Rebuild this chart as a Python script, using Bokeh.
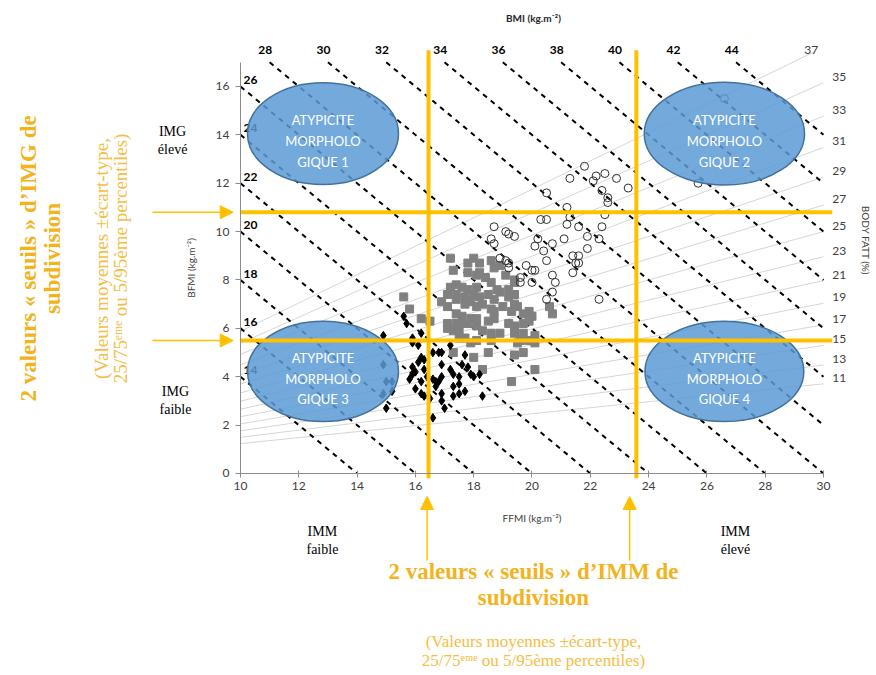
from math import pi
from bokeh.plotting import figure
from bokeh.models import Range1d, Arrow, NormalHead, FixedTicker
from bokeh.embed import file_html
from bokeh.resources import INLINE
from bokeh.core.properties import value

# ---------------- data ----------------
ffmi_ticks = [10, 12, 14, 16, 18, 20, 22, 24, 26, 28, 30]
bfmi_ticks = [0, 2, 4, 6, 8, 10, 12, 14, 16]

bmi_iso = [14, 16, 18, 20, 22, 24, 26, 28, 30, 32, 34, 36, 38, 40, 42, 44]
body_fat_iso = [11, 13, 15, 17, 19, 21, 23, 25, 27, 29, 31, 33, 35, 37]

imm_thresholds = [16.45, 23.58]   # FFMI cut-offs (vertical)
img_thresholds = [5.5, 10.8]      # BFMI cut-offs (horizontal)

# group 1 : black filled diamonds
black_ffmi = [14.9, 15.7, 15.6, 15.9, 15.9, 16.2, 17.2, 16.6, 16.8, 16.9,
              16.2, 16.1, 16.3, 16.9, 17.7, 17.6, 17.8, 17.2, 17.3, 16.0,
              15.9, 16.3, 16.4, 16.6, 16.7, 16.8, 16.9, 16.2, 17.9, 18.0,
              18.2, 17.5, 17.5, 17.3, 16.7, 16.9, 16.2, 16.3, 17.7, 17.5,
              17.3, 16.5, 16.9, 18.3, 17.0, 16.6, 16.0, 15.9, 16.1, 15.8,
              14.9, 15.0, 15.2, 15.2, 14.9, 15.0]
black_bfmi = [5.7, 6.2, 6.5, 5.6, 5.4, 5.8, 5.3, 5.0, 5.0, 5.0,
              4.8, 4.6, 4.7, 4.5, 4.9, 4.5, 4.4, 4.3, 4.1, 4.2,
              4.1, 4.3, 4.0, 3.9, 3.8, 3.8, 4.0, 3.8, 4.1, 4.0,
              4.1, 4.0, 3.7, 3.6, 3.6, 3.3, 3.3, 3.2, 3.4, 3.3,
              3.2, 3.1, 3.0, 3.2, 2.7, 2.3, 3.5, 4.4, 5.3, 3.9,
              4.5, 3.8, 3.8, 3.4, 3.3, 2.7]

# group 2 : grey squares
grey_ffmi = [17.2, 17.3, 17.8, 18.0, 18.2, 18.6, 17.8, 18.1, 18.2, 18.4,
             18.7, 18.9, 19.1, 19.4, 18.6, 18.8, 17.2, 17.4, 17.6, 17.8,
             18.1, 17.1, 17.4, 17.7, 18.0, 18.2, 18.5, 18.9, 19.2, 19.4,
             18.7, 15.6, 16.9, 17.1, 17.4, 17.7, 17.9, 18.1, 18.3, 18.6,
             18.7, 19.0, 19.3, 19.5, 19.9, 20.0, 15.8, 16.2, 16.5, 17.4,
             17.6, 17.9, 18.1, 18.5, 18.7, 17.1, 17.4, 17.6, 17.8, 18.1,
             19.2, 19.4, 19.7, 19.9, 17.1, 17.3, 17.5, 18.3, 18.6, 18.9,
             19.4, 19.7, 20.1, 17.5, 17.7, 18.1, 18.6, 19.6, 19.9, 17.9,
             18.5, 17.3, 18.0, 19.5, 19.7, 19.4, 20.1, 18.3, 20.1, 19.3,
             19.4, 19.2, 19.4, 19.7, 20.7, 20.6]
grey_bfmi = [8.9, 8.4, 8.7, 8.9, 8.7, 8.8, 8.3, 8.2, 8.3, 8.1,
             8.5, 8.6, 8.2, 7.9, 7.9, 7.6, 7.7, 7.8, 7.7, 7.6,
             7.7, 7.4, 7.4, 7.3, 7.4, 7.3, 7.4, 7.5, 7.3, 7.4,
             7.2, 7.3, 7.1, 6.9, 7.2, 7.0, 7.1, 6.9, 7.0, 6.8,
             6.7, 6.9, 6.7, 6.9, 6.7, 6.5, 6.8, 6.4, 6.3, 6.6,
             6.5, 6.4, 6.4, 6.3, 6.4, 6.2, 6.2, 6.2, 6.2, 6.1,
             6.2, 6.1, 6.2, 6.3, 6.0, 5.9, 5.9, 5.9, 5.8, 5.8,
             5.8, 5.8, 5.7, 5.6, 5.6, 5.5, 5.5, 5.5, 5.5, 5.4,
             5.0, 5.0, 4.8, 5.4, 5.0, 4.9, 5.4, 4.3, 4.3, 3.8,
             8.0, 7.6, 7.0, 6.6, 6.6, 6.9]

# group 3 : open circles
open_ffmi = [21.8, 21.3, 22.2, 22.1, 22.5, 22.9, 23.3, 20.5, 22.4, 22.6,
             22.6, 21.2, 22.5, 20.3, 20.5, 21.3, 21.2, 21.6, 22.4, 18.7,
             19.1, 19.2, 19.4, 18.6, 18.7, 20.2, 20.7, 21.1, 21.9, 22.3,
             20.1, 20.4, 21.9, 18.9, 19.1, 19.2, 20.5, 21.4, 21.6, 21.5,
             21.6, 19.8, 20.0, 20.1, 19.2, 19.6, 19.6, 20.0, 20.7, 20.8,
             21.4, 20.7, 20.5, 22.3, 26.6, 25.7]
open_bfmi = [12.7, 12.2, 12.3, 12.1, 12.4, 12.2, 11.8, 11.6, 11.7, 11.4,
             11.2, 11.0, 10.7, 10.5, 10.5, 10.6, 10.3, 10.2, 10.2, 10.2,
             10.0, 9.9, 9.8, 9.7, 9.5, 9.7, 9.5, 9.7, 9.8, 9.7,
             9.4, 9.2, 9.3, 8.9, 8.8, 8.7, 8.8, 9.0, 9.0, 8.7,
             8.7, 8.6, 8.4, 8.4, 8.5, 8.1, 7.9, 7.9, 8.2, 7.9,
             8.3, 7.5, 7.2, 7.2, 15.5, 12.0]

# atypical morphology zones
zone_x = [12.83, 26.6, 12.83, 26.6]
zone_y = [14.05, 14.05, 4.22, 4.22]
zone_w = [5.18, 5.5, 5.18, 5.45]
zone_h = [4.2, 4.25, 4.15, 4.15]
zone_labels = ["ATYPICITE\nMORPHOLO\nGIQUE 1", "ATYPICITE\nMORPHOLO\nGIQUE 2",
               "ATYPICITE\nMORPHOLO\nGIQUE 3", "ATYPICITE\nMORPHOLO\nGIQUE 4"]

# ---------------- styling constants ----------------
YELLOW = "#FFC000"
ORANGE_BOLD = "#F3B31C"
ORANGE_LIGHT = "#F4BE42"
SERIF = value("Liberation Serif")
SANS = value("Lato")
BF_TOP = 17.4
TOP = 17.0

p = figure(width=876, height=675,
           x_range=Range1d(1.7667, 31.8182), y_range=Range1d(-8.3506, 19.5535),
           output_backend="svg", toolbar_location=None,
           min_border_left=0, min_border_right=0, min_border_top=0, min_border_bottom=0)
p.outline_line_color = None
p.xgrid.visible = False
p.ygrid.visible = False

# axes
for ax in (p.xaxis, p.yaxis):
    ax.minor_tick_line_color = None
    ax.axis_line_color = "#8C8C8C"
    ax.major_tick_line_color = "#8C8C8C"
    ax.major_label_text_font = "Lato"
    ax.major_label_text_font_size = "12px"
    ax.major_label_text_color = "#404040"
    ax.axis_label_text_font = "Lato"
    ax.axis_label_text_font_size = "10px"
    ax.axis_label_text_font_style = "normal"
    ax.axis_label_text_color = "#404040"
p.xaxis.fixed_location = 0
p.yaxis.fixed_location = 10
p.xaxis.bounds = (10, 30)
p.yaxis.bounds = (0, 17)
p.xaxis.ticker = FixedTicker(ticks=ffmi_ticks)
p.yaxis.ticker = FixedTicker(ticks=bfmi_ticks)
p.xaxis.major_tick_in = 3
p.xaxis.major_tick_out = 4
p.yaxis.major_tick_in = 0
p.yaxis.major_tick_out = 5
p.xaxis.major_label_standoff = 5
p.yaxis.major_label_standoff = 6
p.xaxis.axis_label = "FFMI (kg.m\u207b\u00b2)"
p.yaxis.axis_label = "BFMI (kg.m\u207b\u00b2)"
p.xaxis.axis_label_standoff = 18
p.yaxis.axis_label_standoff = 16

# body-fat iso lines (through origin)
bf_slope = [f / (100 - f) for f in body_fat_iso]
bf_x1 = [min(30, BF_TOP / s) for s in bf_slope]
bf_y1 = [s * x for s, x in zip(bf_slope, bf_x1)]
p.segment(x0=[10] * len(bf_slope), y0=[10 * s for s in bf_slope], x1=bf_x1, y1=bf_y1,
          line_color="#D6D6D6", line_width=1)
side_i = [i for i, x in enumerate(bf_x1) if x >= 30]
top_i = [i for i, x in enumerate(bf_x1) if x < 30]
p.text(x=[30.3] * len(side_i), y=[bf_y1[i] + 0.25 for i in side_i],
       text=[str(body_fat_iso[i]) for i in side_i],
       text_font=SANS, text_font_size="12px", text_color="#404040",
       text_align="left", text_baseline="middle")
p.text(x=[bf_x1[i] - 0.05 for i in top_i], y=[bf_y1[i] + 0.1 for i in top_i],
       text=[str(body_fat_iso[i]) for i in top_i],
       text_font=SANS, text_font_size="12px", text_color="#404040",
       text_align="center", text_baseline="middle")

# BMI iso lines: FFMI + BFMI = BMI
bx0 = [max(10, b - TOP) for b in bmi_iso]
by0 = [b - x for b, x in zip(bmi_iso, bx0)]
bx1 = [min(30, b) for b in bmi_iso]
by1 = [b - x for b, x in zip(bmi_iso, bx1)]
p.segment(x0=bx0, y0=by0, x1=bx1, y1=by1, line_color="black", line_width=2,
          line_dash="5 5")
left_i = [i for i, b in enumerate(bmi_iso) if b - TOP < 10]
upper_i = [i for i, b in enumerate(bmi_iso) if b - TOP >= 10]
p.text(x=[10.1] * len(left_i), y=[by0[i] + 0.1 for i in left_i],
       text=[str(bmi_iso[i]) for i in left_i], text_font=SANS, text_font_size="12px",
       text_font_style="bold", text_color="black", text_align="left",
       text_baseline="bottom")
p.text(x=[bx0[i] - 0.15 for i in upper_i], y=[TOP + 0.35] * len(upper_i),
       text=[str(bmi_iso[i]) for i in upper_i], text_font=SANS, text_font_size="12px",
       text_font_style="bold", text_color="black", text_align="center",
       text_baseline="bottom")

# points
p.scatter(x=grey_ffmi, y=grey_bfmi, marker="square", size=8, fill_color="#808080",
          line_color="#808080")
p.scatter(x=black_ffmi, y=black_bfmi, marker="diamond", size=8.5, fill_color="black",
          line_color="black")
p.scatter(x=open_ffmi, y=open_bfmi, marker="circle", size=8, fill_color=None,
          line_color="#303030", line_width=1)

# atypical zones
p.ellipse(x=zone_x, y=zone_y, width=zone_w, height=zone_h, fill_color="#5B9BD5",
          fill_alpha=0.85, line_color="#41719C", line_width=1.5)
p.text(x=zone_x, y=[y - 0.3 for y in zone_y], text=zone_labels, text_color="white",
       text_font=SANS, text_font_size="13px", text_align="center",
       text_baseline="middle", text_line_height=1.3)

# threshold lines
p.segment(x0=imm_thresholds, y0=[-0.2] * 2, x1=imm_thresholds, y1=[17.5] * 2,
          line_color=YELLOW, line_width=4)
p.segment(x0=[10] * 2, y0=img_thresholds, x1=[30.3] * 2, y1=img_thresholds,
          line_color=YELLOW, line_width=4)

# arrows pointing at the thresholds
for t in img_thresholds:
    p.add_layout(Arrow(end=NormalHead(size=13, fill_color=YELLOW, line_color=YELLOW),
                       x_start=6.98, y_start=t, x_end=9.75, y_end=t,
                       line_color=YELLOW, line_width=1.5))
for xa in [16.4, 23.35]:
    p.add_layout(Arrow(end=NormalHead(size=13, fill_color=YELLOW, line_color=YELLOW),
                       x_start=xa, y_start=-3.6, x_end=xa, y_end=-0.95,
                       line_color=YELLOW, line_width=1.5))

# titles / side captions
p.text(x=[20.05], y=[18.81], text=["BMI (kg.m\u207b\u00b2)"], text_font=SANS,
       text_font_size="10px", text_font_style="bold", text_color="#262626",
       text_align="center", text_baseline="middle")
p.text(x=[31.45], y=[9.63], text=["BODY FATT (%)"], text_font=SANS, text_font_size="10px",
       text_color="#404040", text_align="center", text_baseline="middle", angle=-pi / 2)

p.text(x=[7.67, 7.77], y=[13.77, 3.02], text=["IMG\n\u00e9lev\u00e9", "IMG\nfaible"],
       text_font=SERIF, text_font_size="14px", text_color="black",
       text_align="center", text_baseline="middle", text_line_height=1.2)
p.text(x=[12.81, 26.98], y=[-2.77, -2.77], text=["IMM\nfaible", "IMM\n\u00e9lev\u00e9"],
       text_font=SERIF, text_font_size="14px", text_color="black",
       text_align="center", text_baseline="middle", text_line_height=1.2)

p.text(x=[20.05], y=[-4.59],
       text=["2 valeurs \u00ab seuils \u00bb d\u2019IMM de\nsubdivision"],
       text_font=SERIF, text_font_size="23px", text_font_style="bold",
       text_color=ORANGE_BOLD, text_align="center", text_baseline="middle",
       text_line_height=1.06)
p.text(x=[20.05], y=[-7.32],
       text=["(Valeurs moyennes \u00b1\u00e9cart-type,\n25/75\u1d49\u1d50\u1d49 ou 5/95\u00e8me percentiles)"],
       text_font=SERIF, text_font_size="17px", text_color=ORANGE_LIGHT,
       text_align="center", text_baseline="middle", text_line_height=1.0)

p.text(x=[3.14], y=[8.89],
       text=["2 valeurs \u00ab seuils \u00bb d\u2019IMG de\nsubdivision"],
       text_font=SERIF, text_font_size="23px", text_font_style="bold",
       text_color=ORANGE_BOLD, text_align="center", text_baseline="middle",
       text_line_height=0.95, angle=pi / 2)
p.text(x=[5.56], y=[8.89],
       text=["(Valeurs moyennes \u00b1\u00e9cart-type,\n25/75\u1d49\u1d50\u1d49 ou 5/95\u00e8me percentiles)"],
       text_font=SERIF, text_font_size="19px", text_color=ORANGE_LIGHT,
       text_align="center", text_baseline="middle", text_line_height=0.9,
       angle=pi / 2)

open("out.html", "w").write(file_html(p, INLINE))
